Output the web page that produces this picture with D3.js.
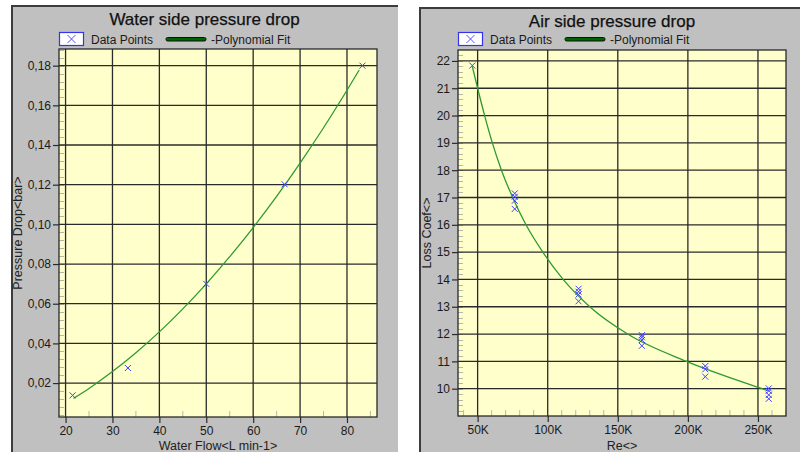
<!DOCTYPE html>
<html lang="en">
<head>
    <meta charset="UTF-8">
    <title>Pressure drop</title>
    <style>
        body { margin: 0; background: #fff; }
        text { font-family: "Liberation Sans", Arial, sans-serif; }
    </style>
</head>
<body>
<script src="https://d3js.org/d3.v7.min.js"></script>
<script>
    // water side data
    let waterFlow = [21.5, 33.3, 50.0, 66.7, 83.3];
    let waterDrop = [0.0138, 0.0276, 0.0700, 0.1202, 0.1800];
    let waterFitFlow = [21.7, 25, 30, 35, 40, 45, 50, 55, 60, 65, 70, 75, 80, 82.6];
    let waterFitDrop = [0.0123, 0.0173, 0.0258, 0.0353, 0.0458, 0.0574, 0.0700, 0.0837, 0.0984, 0.1141, 0.1309, 0.1487, 0.1676, 0.1778];
    let waterXTicks = [20, 30, 40, 50, 60, 70, 80];
    let waterYTicks = [0.02, 0.04, 0.06, 0.08, 0.10, 0.12, 0.14, 0.16, 0.18];

    // air side data
    let airRe = [46200,
        76500, 76500, 76500, 76500,
        122000, 122000, 122000, 122000,
        167200, 167200, 167200, 167200,
        212400, 212400, 212400,
        257700, 257700, 257700, 257700];
    let airLoss = [21.83,
        17.15, 17.03, 16.88, 16.58,
        13.66, 13.55, 13.45, 13.2,
        11.96, 11.88, 11.78, 11.57,
        10.83, 10.71, 10.44,
        10.01, 9.92, 9.77, 9.63];
    let airFitRe = [46200, 50000, 55000, 60500, 67000, 75000, 84500, 96500, 111000, 130000, 157000, 199000, 253000, 257000];
    let airFitLoss = [21.8, 21.0, 20.0, 19.0, 18.0, 17.0, 16.0, 15.0, 14.0, 13.0, 12.0, 11.0, 10.0, 9.93];
    let airXTicks = [50000, 100000, 150000, 200000, 250000];
    let airYTicks = [10, 11, 12, 13, 14, 15, 16, 17, 18, 19, 20, 21, 22];

    let W = 800, H = 452;
    let svg = d3.select("body").append("svg")
        .attr("width", W)
        .attr("height", H);

    let comma = d3.formatLocale({decimal: ",", thousands: ".", grouping: [3], currency: ["", ""]});

    function drawPanel(cfg) {
        let g = svg.append("g");

        // gray frame
        g.append("rect")
            .attr("x", cfg.px).attr("y", cfg.py)
            .attr("width", cfg.pw).attr("height", H - cfg.py + 2)
            .attr("fill", "#c0c0c0");
        g.append("path")
            .attr("d", "M" + (cfg.px + 1) + "," + H + "V" + (cfg.py + 1) + "H" + (cfg.px + cfg.pw))
            .attr("fill", "none")
            .attr("stroke", "#3c3c3c")
            .attr("stroke-width", 2);

        g.append("text")
            .attr("x", cfg.px + cfg.pw / 2)
            .attr("y", cfg.py + 20)
            .attr("text-anchor", "middle")
            .style("font-size", "17px")
            .attr("fill", "#111")
            .attr("stroke", "#111")
            .attr("stroke-width", 0.25)
            .text(cfg.title);

        let x = d3.scaleLinear().domain(cfg.xDom).range([cfg.l, cfg.r]);
        let y = d3.scaleLinear().domain(cfg.yDom).range([cfg.b, cfg.t]);

        // plot background
        g.append("rect")
            .attr("x", cfg.l).attr("y", cfg.t)
            .attr("width", cfg.r - cfg.l).attr("height", cfg.b - cfg.t)
            .attr("fill", "#ffffcc");

        // minor ticks
        let xMinor = [];
        let m0 = Math.ceil(cfg.xDom[0] / cfg.xMinorStep), m1 = Math.floor(cfg.xDom[1] / cfg.xMinorStep);
        for (let i = m0; i <= m1; ++i) {
            let v = i * cfg.xMinorStep;
            if (cfg.xTicks.indexOf(v) < 0) xMinor.push(v);
        }
        g.selectAll(".xminor")
            .data(xMinor)
            .enter().append("line")
            .attr("x1", function (d) { return x(d); })
            .attr("x2", function (d) { return x(d); })
            .attr("y1", cfg.b)
            .attr("y2", cfg.b - 6)
            .attr("stroke", "#b8b8a8");
        let yMinor = [];
        let n0 = Math.ceil(cfg.yDom[0] / cfg.yMinorStep), n1 = Math.floor(cfg.yDom[1] / cfg.yMinorStep);
        for (let i = n0; i <= n1; ++i) yMinor.push(i * cfg.yMinorStep);
        g.selectAll(".yminor")
            .data(yMinor)
            .enter().append("line")
            .attr("x1", cfg.l)
            .attr("x2", cfg.l + 5)
            .attr("y1", function (d) { return Math.round(y(d)) + 0.5; })
            .attr("y2", function (d) { return Math.round(y(d)) + 0.5; })
            .attr("stroke", "#b8b8a8");

        // grid
        g.selectAll(".vgrid")
            .data(cfg.xTicks)
            .enter().append("line")
            .attr("x1", function (d) { return x(d); })
            .attr("x2", function (d) { return x(d); })
            .attr("y1", cfg.t).attr("y2", cfg.b)
            .attr("stroke", "#2a2a2a")
            .attr("stroke-width", 1.3);
        g.selectAll(".hgrid")
            .data(cfg.yTicks)
            .enter().append("line")
            .attr("x1", cfg.l).attr("x2", cfg.r)
            .attr("y1", function (d) { return y(d); })
            .attr("y2", function (d) { return y(d); })
            .attr("stroke", "#2a2a2a")
            .attr("stroke-width", 1.3);

        g.append("rect")
            .attr("x", cfg.l).attr("y", cfg.t)
            .attr("width", cfg.r - cfg.l).attr("height", cfg.b - cfg.t)
            .attr("fill", "none")
            .attr("stroke", "#2a2a2a")
            .attr("stroke-width", 1.3);

        // axes
        let xAxis = g.append("g")
            .attr("transform", "translate(0," + cfg.b + ")")
            .call(d3.axisBottom(x).tickValues(cfg.xTicks).tickFormat(cfg.xFmt).tickSize(6).tickPadding(3));
        let yAxis = g.append("g")
            .attr("transform", "translate(" + cfg.l + ",0)")
            .call(d3.axisLeft(y).tickValues(cfg.yTicks).tickFormat(cfg.yFmt).tickSize(6).tickPadding(2));
        [xAxis, yAxis].forEach(function (a) {
            a.select(".domain").remove();
            a.selectAll("line").attr("stroke", "#2a2a2a").attr("stroke-width", 1.2);
            a.selectAll("text")
                .style("font-size", "12px")
                .style("font-family", "'Liberation Sans', Arial, sans-serif")
                .attr("fill", "#1a1a1a");
        });

        g.append("text")
            .attr("x", (cfg.l + cfg.r) / 2)
            .attr("y", 450)
            .attr("text-anchor", "middle")
            .style("font-size", "12.5px")
            .attr("fill", "#222")
            .text(cfg.xTitle);
        g.append("text")
            .attr("transform", "translate(" + cfg.yTitleX + "," + (cfg.t + cfg.b) / 2 + ") rotate(-90)")
            .attr("text-anchor", "middle")
            .style("font-size", "12.5px")
            .attr("fill", "#222")
            .text(cfg.yTitle);

        // fit curve
        let line = d3.line()
            .x(function (d) { return x(d[0]); })
            .y(function (d) { return y(d[1]); })
            .curve(d3.curveMonotoneX);
        g.append("path")
            .datum(d3.zip(cfg.fitX, cfg.fitY))
            .attr("d", line)
            .attr("fill", "none")
            .attr("stroke", "#2e9a2e")
            .attr("stroke-width", 1.3);

        // data points
        g.selectAll(".pt")
            .data(d3.zip(cfg.ptX, cfg.ptY))
            .enter().append("path")
            .attr("transform", function (d) { return "translate(" + x(d[0]) + "," + y(d[1]) + ")"; })
            .attr("d", "M-3,-3L3,3M-3,3L3,-3")
            .attr("stroke", "#4040ff")
            .attr("stroke-width", 1);

        // legend
        let lx = cfg.l;
        g.append("rect")
            .attr("x", lx + 0.5).attr("y", 32.5)
            .attr("width", 24).attr("height", 13)
            .attr("fill", "#ffffff")
            .attr("stroke", "#3333ee")
            .attr("stroke-width", 1.2);
        g.append("path")
            .attr("transform", "translate(" + (lx + 12.5) + ",39)")
            .attr("d", "M-4,-4L4,4M-4,4L4,-4")
            .attr("stroke", "#5050ff")
            .attr("stroke-width", 1);
        g.append("text")
            .attr("x", lx + 32).attr("y", 43.5)
            .style("font-size", "12px")
            .attr("fill", "#1a1a1a")
            .text("Data Points");
        g.append("rect")
            .attr("x", lx + 107).attr("y", 37.5)
            .attr("width", 40).attr("height", 3.5)
            .attr("rx", 1.5)
            .attr("fill", "#006400")
            .attr("stroke", "#111")
            .attr("stroke-width", 1);
        g.append("text")
            .attr("x", lx + 152).attr("y", 43.5)
            .style("font-size", "12px")
            .attr("fill", "#1a1a1a")
            .text("-Polynomial Fit");
    }

    drawPanel({
        px: 11, py: 5, pw: 387,
        l: 59, r: 377, t: 49, b: 417,
        xDom: [18.6, 86.4], yDom: [0.0029, 0.1884],
        xTicks: waterXTicks, yTicks: waterYTicks,
        xMinorStep: 5, yMinorStep: 0.004,
        xFmt: d3.format("d"), yFmt: comma.format(".2f"),
        title: "Water side pressure drop",
        xTitle: "Water Flow<L min-1>", yTitle: "Pressure Drop<bar>", yTitleX: 22,
        ptX: waterFlow, ptY: waterDrop, fitX: waterFitFlow, fitY: waterFitDrop
    });

    drawPanel({
        px: 419, py: 7, pw: 386,
        l: 458, r: 786, t: 50, b: 416,
        xDom: [36000, 270000], yDom: [9.0, 22.4],
        xTicks: airXTicks, yTicks: airYTicks,
        xMinorStep: 10000, yMinorStep: 0.2,
        xFmt: function (d) { return d / 1000 + "K"; }, yFmt: d3.format("d"),
        title: "Air side pressure drop",
        xTitle: "Re<>", yTitle: "Loss Coef<>", yTitleX: 431,
        ptX: airRe, ptY: airLoss, fitX: airFitRe, fitY: airFitLoss
    });
</script>
</body>
</html>
